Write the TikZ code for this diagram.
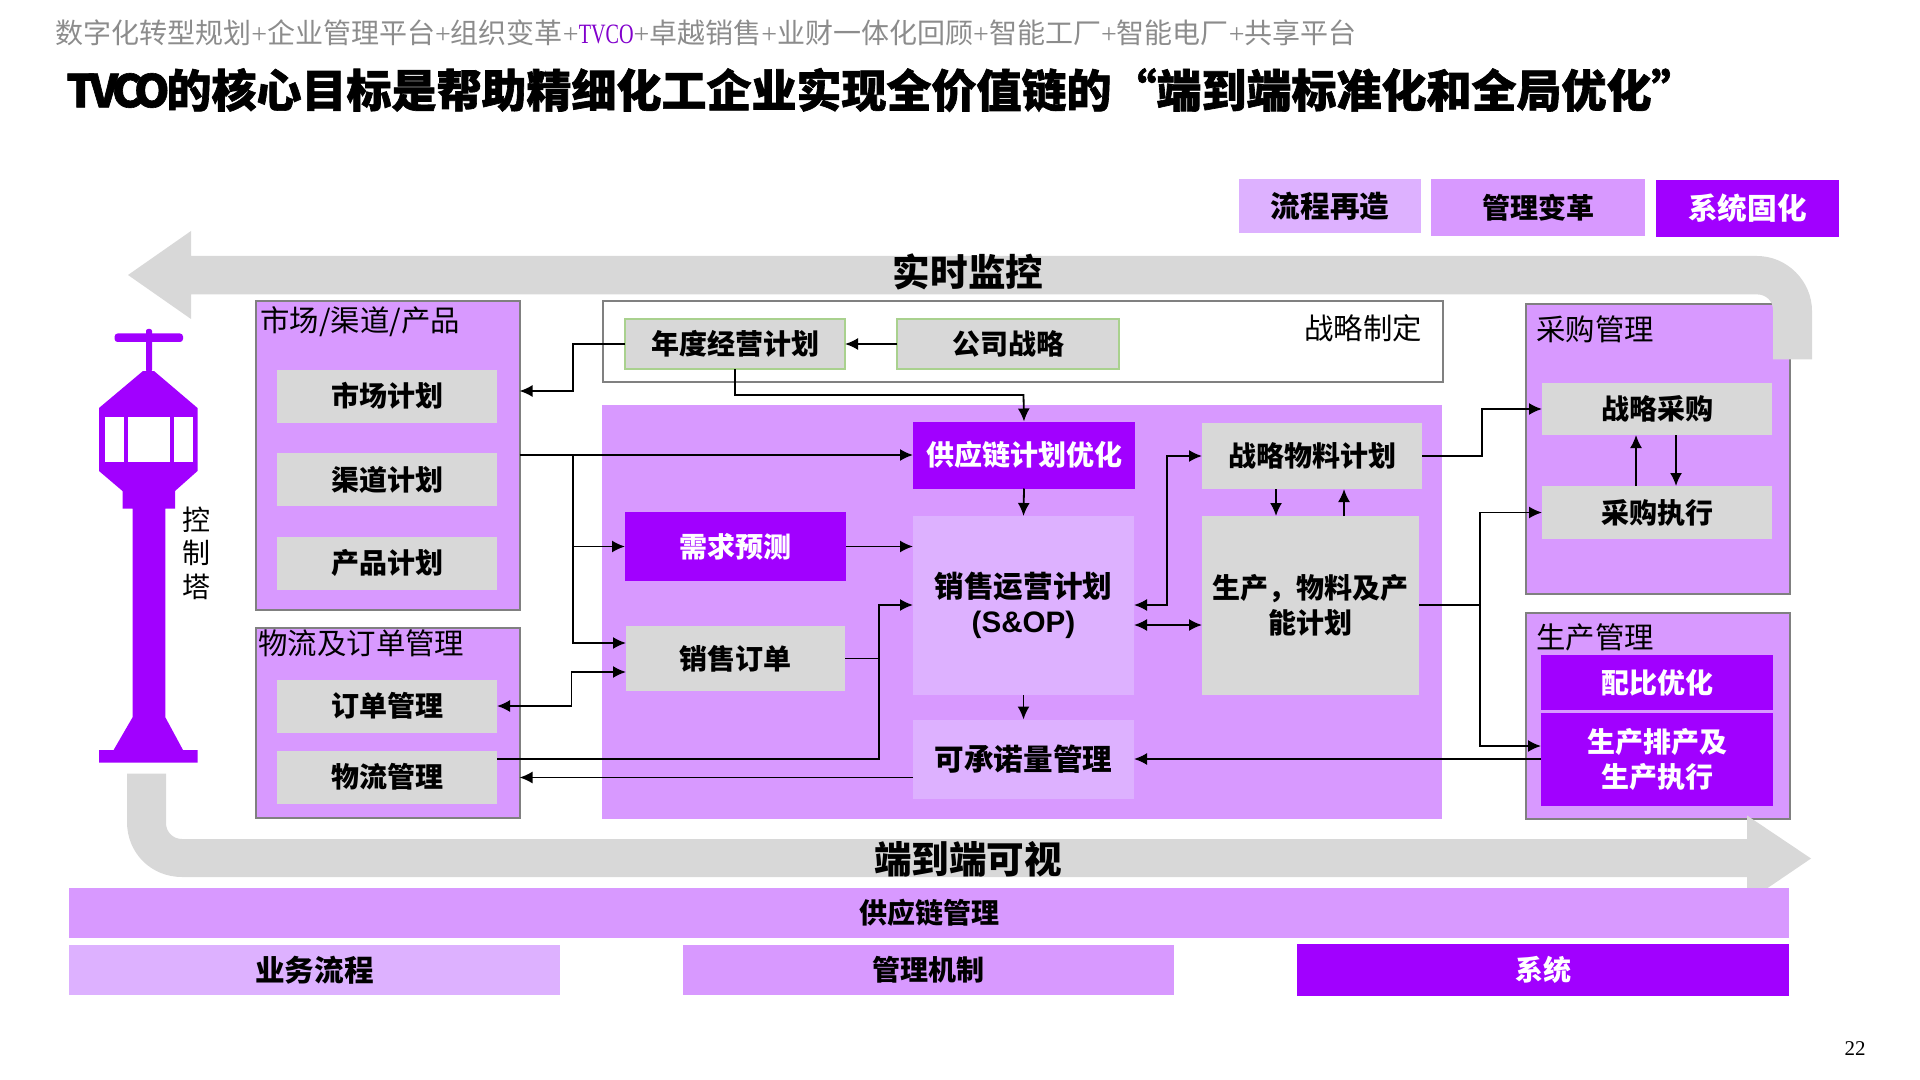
\documentclass[tikz,border=0pt]{standalone}
\usepackage{fontspec}
\usetikzlibrary{arrows.meta}
\setmainfont{Noto Sans CJK SC}
\newfontfamily\titlefont[BoldFeatures={FakeBold=1.4}]{Noto Sans CJK SC}
\newfontfamily\serifface{Liberation Serif}
\newfontfamily\armface{Liberation Sans}
\definecolor{deep}{HTML}{A100FF}
\definecolor{lilac}{HTML}{D899FF}
\definecolor{pale}{HTML}{DDB1FF}
\definecolor{band}{HTML}{D8D8D8}
\definecolor{leaf}{HTML}{A9D18E}
\tikzset{
  x=0.5pt, y=-0.5pt,
  >={Latex[length=6.5pt,width=6pt]},
  tile/.style={rectangle, inner sep=0pt, outer sep=0pt, align=center,
    font=\fontsize{14}{17.5}\selectfont\bfseries},
  bigfont/.style={font=\fontsize{14.8}{17.5}\selectfont\bfseries},
  greybox/.style={tile, fill=band, text=black},
  greenbox/.style={greybox, draw=leaf, line width=1pt},
  deepbox/.style={tile, fill=deep, text=white},
  lilacbox/.style={tile, fill=lilac, text=black},
  palebox/.style={tile, fill=pale, text=black},
  outerbox/.style={rectangle, outer sep=0pt, fill=lilac, draw=black!50, line width=1pt},
  headtext/.style={inner sep=0pt, anchor=west, font=\fontsize{14.7}{17}\selectfont},
  bandtext/.style={inner sep=0pt, font=\fontsize{18.8}{22}\selectfont\bfseries},
  link/.style={draw=black, line width=0.9pt}
}
\begin{document}
\begin{tikzpicture}
  \useasboundingbox (0,0) rectangle (1920,1080);
  \node[inner sep=0pt, anchor=west, text=black!45, font=\fontsize{14}{17}\selectfont] (sub) at (55,33)
    {数字化转型规划{\serifface+}企业管理平台{\serifface+}组织变革{\serifface+\textcolor{deep!80!black}{\addfontfeature{FakeStretch=0.72}TVCO}+}卓越销售{\serifface+}业财一体化回顾{\serifface+}智能工厂{\serifface+}智能电厂{\serifface+}共享平台};
  \node[inner sep=0pt, anchor=west, font=\fontsize{22.5}{26}\titlefont\bfseries] (title) at (66,90)
    {{\addfontfeature{LetterSpace=-13}TVCO}\hspace{-1.5pt}的核心目标是帮助精细化工企业实现全价值链的“端到端标准化和全局优化”};

  \node[palebox, bigfont, minimum width=91pt, minimum height=27pt] (flow) at (1330,206) {流程再造};
  \node[lilacbox, minimum width=107pt, minimum height=28.5pt] (mgmt) at (1538,207.5) {管理变革};
  \node[deepbox, bigfont, minimum width=91.5pt, minimum height=28.5pt] (sys) at (1747.5,208.5) {系统固化};

  \node[outerbox, minimum width=132pt, minimum height=154pt] (mkt) at (387.5,455.5) {};
  \node[outerbox, minimum width=132pt, minimum height=95pt] (logi) at (387.5,723) {};
  \node[outerbox, fill=white, minimum width=420pt, minimum height=40pt] (strat) at (1022.5,341.5) {};
  \node[rectangle, fill=lilac, minimum width=420pt, minimum height=207pt] (core) at (1022,612) {};
  \node[outerbox, minimum width=132pt, minimum height=145pt] (purch) at (1657.5,449) {};
  \node[outerbox, minimum width=132pt, minimum height=103pt] (make) at (1657.5,716) {};

  \fill[band] (1773,359.5) -- (1812,359.5) -- (1812,311) .. controls (1812,281) and (1787,256) .. (1757,256)
    -- (191,256) -- (191,231) -- (128,275) -- (191,319) -- (191,294.4) -- (1757,294.4)
    .. controls (1766,294.4) and (1773,301) .. (1773,310) -- cycle;
  \fill[band] (127,773.6) -- (166,773.6) -- (166,823) .. controls (166,832) and (173,839) .. (182,839)
    -- (1747,839) -- (1747,815.5) -- (1811,858.5) -- (1747,902) -- (1747,877) -- (182,877)
    .. controls (151,877) and (127,853) .. (127,822) -- cycle;
  \node[bandtext] (watch) at (968,272) {实时监控};
  \node[bandtext] (vis) at (968,859) {端到端可视};

  \fill[deep, rounded corners=1.5pt] (114.6,333.5) rectangle (183,342);
  \fill[deep, rounded corners=1pt] (146,329) rectangle (152,372);
  \fill[deep] (143,371) -- (154,371) -- (197.5,408) -- (197.5,471) -- (175,491) -- (175,508.6) -- (165.4,508.6)
    -- (165.4,717.4) -- (183,750) -- (197.5,750) -- (197.5,762.5) -- (99,762.5) -- (99,750) -- (113.6,750)
    -- (132.5,717.4) -- (132.5,508.6) -- (122.5,508.6) -- (122.5,491) -- (99,471) -- (99,408) -- cycle;
  \fill[white] (104.6,416.5) rectangle (123.6,462.4);
  \fill[white] (128,416.5) rectangle (169.6,462.4);
  \fill[white] (174,416.5) rectangle (192.5,462.4);
  \node[inner sep=0pt, align=center, font=\fontsize{14}{16.8}\selectfont] (tower) at (196,553) {控\\制\\塔};

  \node[headtext] (mkthead) at (260,322) {市场/渠道/产品};
  \node[headtext] (logihead) at (258,643) {物流及订单管理};
  \node[headtext] (strathead) at (1304,328) {战略制定};
  \node[headtext] (purchhead) at (1536,329) {采购管理};
  \node[headtext] (makehead) at (1536,637) {生产管理};

  \node[greybox, minimum width=110pt, minimum height=26.5pt] (mktplan) at (387,396) {市场计划};
  \node[greybox, minimum width=110pt, minimum height=26.5pt] (chplan) at (387,479.5) {渠道计划};
  \node[greybox, minimum width=110pt, minimum height=26.5pt] (prodplan) at (387,563) {产品计划};
  \node[greybox, minimum width=110pt, minimum height=26.5pt] (orders) at (387,706) {订单管理};
  \node[greybox, minimum width=110pt, minimum height=26.5pt] (logimgt) at (387,777) {物流管理};

  \node[greenbox, minimum width=110pt, minimum height=25pt] (annual) at (735,344) {年度经营计划};
  \node[greenbox, minimum width=111pt, minimum height=25pt] (corp) at (1008,344) {公司战略};
  \node[deepbox, minimum width=111pt, minimum height=33.5pt] (scm) at (1024,455) {供应链计划优化};
  \node[deepbox, minimum width=110.5pt, minimum height=34.5pt] (fcst) at (735.5,546.5) {需求预测};
  \node[greybox, minimum width=109.5pt, minimum height=32.5pt] (sorder) at (735.5,658.5) {销售订单};
  \node[palebox, bigfont, minimum width=110.5pt, minimum height=89.5pt] (sop) at (1023.5,605.5) {销售运营计划\\{\armface (S\&OP)}};
  \node[palebox, bigfont, minimum width=110.5pt, minimum height=39.5pt] (atp) at (1023.5,759) {可承诺量管理};
  \node[greybox, minimum width=110pt, minimum height=33pt] (matl) at (1312,456) {战略物料计划};
  \node[greybox, minimum width=108.5pt, minimum height=89.5pt] (prod) at (1310.5,605.5) {生产，物料及产\\能计划};
  \node[greybox, minimum width=115pt, minimum height=26pt] (stratbuy) at (1657,409) {战略采购};
  \node[greybox, minimum width=115pt, minimum height=26.5pt] (buyexec) at (1657,512.5) {采购执行};
  \node[deepbox, minimum width=116pt, minimum height=27.5pt] (ratio) at (1657,682.5) {配比优化};
  \node[deepbox, minimum width=116pt, minimum height=46.5pt] (sched) at (1657,759.5) {生产排产及\\生产执行};

  \node[lilacbox, minimum width=860pt, minimum height=25pt] (scbar) at (929,913) {供应链管理};
  \node[palebox, bigfont, minimum width=245.5pt, minimum height=25pt] (bizbar) at (314.5,970) {业务流程};
  \node[lilacbox, minimum width=245.5pt, minimum height=25pt] (mgrbar) at (928.5,970) {管理机制};
  \node[deepbox, minimum width=246pt, minimum height=26pt] (sysbar) at (1543,969.5) {系统};

  \node[inner sep=0pt, font=\fontsize{10.5}{12}\serifface] (page) at (1855,1049) {22};

  \coordinate (j1) at (573,391);
  \coordinate (j2) at (573,455);
  \coordinate (j3) at (735,395);
  \coordinate (j4) at (1023.5,395);
  \coordinate (s1) at (626,643);
  \coordinate (s2) at (626,672);
  \coordinate (o1) at (571.5,706);
  \coordinate (f1) at (497,759);
  \coordinate (f2) at (879,759);
  \coordinate (f3) at (879,605);
  \coordinate (f4) at (913,605);
  \coordinate (a1) at (913,777.5);
  \coordinate (a2) at (1134,759);
  \coordinate (a3) at (1541,759);
  \coordinate (m1) at (1134,605);
  \coordinate (m2) at (1167,605);
  \coordinate (p1) at (1134,625);
  \coordinate (b1) at (1482,456);
  \coordinate (b2) at (1482,409);
  \coordinate (c1) at (1419,605);
  \coordinate (c2) at (1480,605);
  \coordinate (c3) at (1480,512.5);
  \coordinate (c4) at (1480,746);
  \coordinate (c5) at (1541,746);

  \draw[link, ->] (annual.west) -| (j1) -- (mkt.east |- j1);
  \draw[link, ->] (corp.west) -- (annual.east);
  \draw[link, ->] (annual.south) -- (j3) -- (j4) -- (scm.north);
  \draw[link, ->] (mkt.east |- scm.west) -- (scm.west);
  \draw[link, ->] (j2) |- (fcst.west);
  \draw[link, ->] (j2) |- (s1);
  \draw[link, <->] (orders.east) -- (o1) |- (s2);
  \draw[link, ->] (f1) -- (f2) -- (f3) -- (f4);
  \draw[link] (sorder.east) -- (sorder.east -| f2);
  \draw[link, ->] (a1) -- (logi.east |- a1);
  \draw[link, ->] (fcst.east) -- (sop.west |- fcst.east);
  \draw[link, ->] (scm.south) -- (sop.north);
  \draw[link, ->] (sop.south) -- (atp.north);
  \draw[link, <->] (m1) -- (m2) |- (matl.west);
  \draw[link, <->] (p1) -- (prod.west |- p1);
  \draw[link, ->] (matl.south -| 1276,0) -- (prod.north -| 1276,0);
  \draw[link, ->] (prod.north -| 1344,0) -- (matl.south -| 1344,0);
  \draw[link, ->] (matl.east) -- (b1) -- (b2) -- (stratbuy.west);
  \draw[link] (c1) -- (c2);
  \draw[link, ->] (c2) -- (c3) -- (buyexec.west);
  \draw[link, ->] (c2) -- (c4) -- (c5);
  \draw[link, ->] (a3) -- (a2);
  \draw[link, ->] (buyexec.north -| 1636,0) -- (stratbuy.south -| 1636,0);
  \draw[link, ->] (stratbuy.south -| 1676,0) -- (buyexec.north -| 1676,0);
\end{tikzpicture}
\end{document}
